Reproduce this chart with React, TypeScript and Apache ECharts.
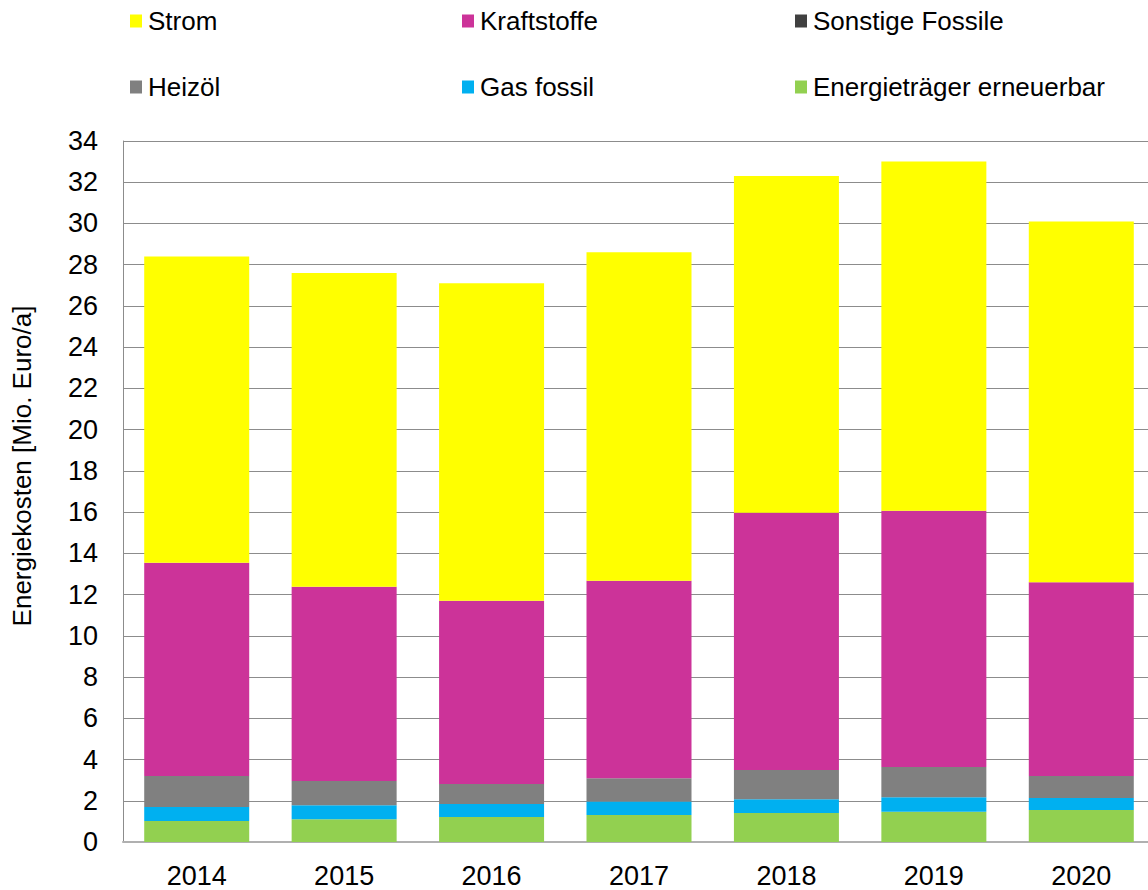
import React, { useEffect, useRef } from "react";
import * as echarts from "echarts";

const years = ["2014", "2015", "2016", "2017", "2018", "2019", "2020"];
const erneuerbar = [1.02, 1.1, 1.21, 1.31, 1.41, 1.47, 1.55];
const gasFossil = [0.68, 0.68, 0.63, 0.66, 0.66, 0.7, 0.59];
const heizoel = [1.5, 1.18, 0.97, 1.12, 1.42, 1.47, 1.06];
const sonstigeFossile = [0, 0, 0, 0, 0, 0, 0];
const kraftstoffe = [10.34, 9.42, 8.89, 9.58, 12.48, 12.43, 9.4];
const strom = [14.86, 15.22, 15.4, 15.93, 16.33, 16.93, 17.5];

const FONT = "'Liberation Sans', Arial, sans-serif";

export default function App() {
  const ref = useRef<HTMLDivElement>(null);
  useEffect(() => {
    const chart = echarts.init(ref.current!, null, { renderer: "svg" });
    const mk = (name: string, data: number[], color: string) => ({
      name,
      type: "bar",
      stack: "total",
      data,
      barWidth: 105,
      itemStyle: { color },
      emphasis: { disabled: true },
    });
    const legendPos: [string, number, number][] = [
      ["Strom", 130, 8],
      ["Kraftstoffe", 462, 8],
      ["Sonstige Fossile", 795, 8],
      ["Heizöl", 130, 74],
      ["Gas fossil", 462, 74],
      ["Energieträger erneuerbar", 795, 74],
    ];
    chart.setOption({
      animation: false,
      textStyle: { fontFamily: FONT },
      legend: legendPos.map(([n, x, y]) => ({
        data: [n],
        left: x,
        top: y,
        padding: 0,
        icon: "rect",
        itemWidth: 12,
        itemHeight: 13,
        itemGap: 0,
        textStyle: { fontSize: 26, color: "#000", fontFamily: FONT, lineHeight: 26, padding: [0, 0, 0, 1] },
        selectedMode: false,
      })),
      grid: { left: 123, top: 141, width: 1032, bottom: 48, outerBoundsMode: "none", containLabel: false },
      xAxis: {
        type: "category",
        data: years,
        axisTick: { show: false },
        axisLine: { lineStyle: { color: "#b0b0b0", width: 2 } },
        axisLabel: { fontSize: 27, color: "#000", margin: 20, fontFamily: FONT },
      },
      yAxis: {
        type: "value",
        min: 0,
        max: 34,
        interval: 2,
        axisLine: { show: true, lineStyle: { color: "#8c8c8c", width: 1 } },
        axisTick: { show: false },
        axisLabel: { fontSize: 27, color: "#000", margin: 25, fontFamily: FONT },
        splitLine: { lineStyle: { color: "#8c8c8c", width: 1 } },
      },
      graphic: [
        {
          type: "text",
          x: 22,
          y: 466,
          rotation: Math.PI / 2,
          style: {
            text: "Energiekosten [Mio. Euro/a]",
            fontSize: 26,
            fontFamily: FONT,
            fill: "#000",
            align: "center",
            verticalAlign: "middle",
          },
        },
      ],
      series: [
        mk("Energieträger erneuerbar", erneuerbar, "#92D050"),
        mk("Gas fossil", gasFossil, "#00B0F0"),
        mk("Heizöl", heizoel, "#808080"),
        mk("Sonstige Fossile", sonstigeFossile, "#404040"),
        mk("Kraftstoffe", kraftstoffe, "#CC3399"),
        mk("Strom", strom, "#FFFF00"),
      ],
    });
    return () => chart.dispose();
  }, []);
  return <div ref={ref} style={{ width: 1148, height: 890, position: "absolute", left: 0, top: 0 }} />;
}
